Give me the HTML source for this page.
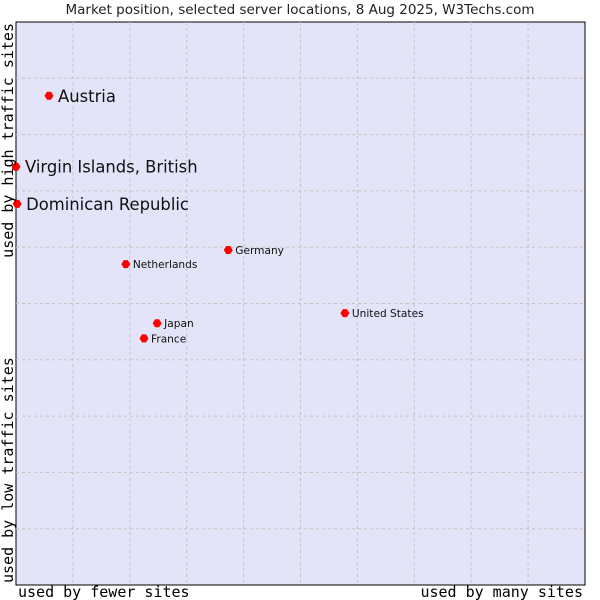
<!DOCTYPE html>
<html><head><meta charset="utf-8"><style>
html,body{margin:0;padding:0;background:#fff;width:600px;height:600px;overflow:hidden}
</style></head><body>
<svg id="chart" width="600" height="600" xmlns="http://www.w3.org/2000/svg">
<text x="300" y="14" text-anchor="middle" font-family="DejaVu Sans, sans-serif" font-size="13.5" fill="#222">Market position, selected server locations, 8 Aug 2025, W3Techs.com</text>
<rect x="16" y="22" width="569" height="563" fill="#e3e4f8" stroke="#000" stroke-width="1"/>
<g id="grid"></g>
<g id="points"></g>
<text x="18" y="597" font-family="DejaVu Sans Mono, monospace" font-size="15" fill="#000">used by fewer sites</text>
<text x="583" y="597" text-anchor="end" font-family="DejaVu Sans Mono, monospace" font-size="15" fill="#000">used by many sites</text>
<text transform="translate(13,23) rotate(-90)" text-anchor="end" font-family="DejaVu Sans Mono, monospace" font-size="15" fill="#000">used by high traffic sites</text>
<text transform="translate(13,583) rotate(-90)" font-family="DejaVu Sans Mono, monospace" font-size="15" fill="#000">used by low traffic sites</text>
</svg>
<script>
const names = ["Austria","Virgin Islands, British","Dominican Republic","Germany","Netherlands","United States","Japan","France"];
const xValues = [5.8, 0, 0.2, 37.3, 19.3, 57.8, 24.8, 22.5];
const yValues = [86.9, 74.3, 67.7, 59.5, 57.0, 48.3, 46.5, 43.8];
const bigLabel = [true, true, true, false, false, false, false, false];
const gridTicks = [10,20,30,40,50,60,70,80,90];

const NS="http://www.w3.org/2000/svg";
const L=16,R=585,T=22,B=585;
const xs=v=>L+v/100*(R-L);
const ys=v=>B-v/100*(B-T);
const grid=document.getElementById('grid');
gridTicks.forEach(t=>{
  const v=document.createElementNS(NS,'line');
  
  
  v.setAttribute('x1',xs(t));v.setAttribute('x2',xs(t));v.setAttribute('y1',T);v.setAttribute('y2',B);
  v.setAttribute('stroke','#c4c4c4');v.setAttribute('stroke-dasharray','3,3');
  grid.appendChild(v);
  const h=document.createElementNS(NS,'line');
  
  
  h.setAttribute('y1',ys(t));h.setAttribute('y2',ys(t));h.setAttribute('x1',L);h.setAttribute('x2',R);
  h.setAttribute('stroke','#c4c4c4');h.setAttribute('stroke-dasharray','3,3');
  grid.appendChild(h);
});
const pts=document.getElementById('points');
names.forEach((n,i)=>{
  const x=xs(xValues[i]),y=ys(yValues[i]);
  const m=document.createElementNS(NS,'path');
  
  
  m.setAttribute('d',`M${x-4.5},${y} L${x-2},${y-4} L${x+2},${y-4} L${x+4.5},${y} L${x+2},${y+4} L${x-2},${y+4}Z`);
  m.setAttribute('fill','#f00');
  pts.appendChild(m);
  const t=document.createElementNS(NS,'text');
  
  
  const big=bigLabel[i];
  t.setAttribute('x',x+(big?9:7));
  t.setAttribute('y',y+(big?6:4));
  t.setAttribute('font-family','DejaVu Sans, sans-serif');
  t.setAttribute('font-size',big?16.4:10.6);
  t.setAttribute('fill','#111');
  t.textContent=n;
  pts.appendChild(t);
});
</script>
</body></html>
